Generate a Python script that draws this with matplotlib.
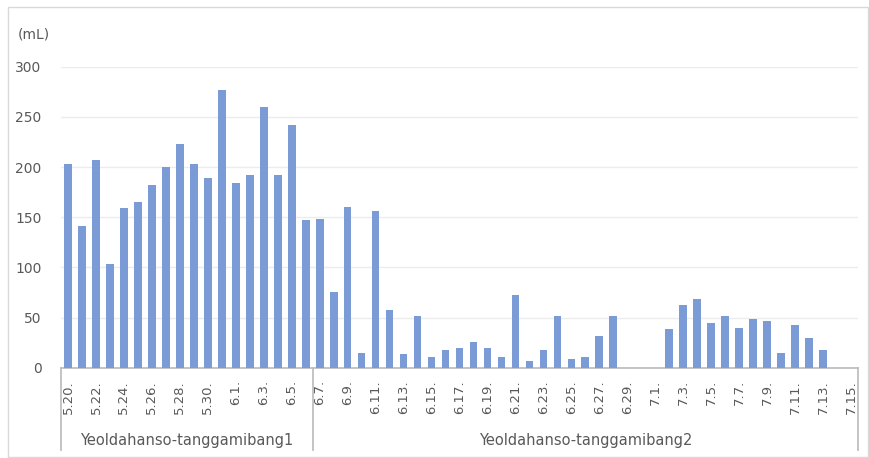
import numpy as np
import matplotlib
matplotlib.use("Agg")
import matplotlib.pyplot as plt
from matplotlib.patches import Rectangle

# --- data (mL per day) ---
dates1 = ["5.20.", "5.21.", "5.22.", "5.23.", "5.24.", "5.25.", "5.26.", "5.27.", "5.28.",
          "5.29.", "5.30.", "5.31.", "6.1.", "6.2.", "6.3.", "6.4.", "6.5.", "6.6."]
vals1 = [203, 141, 207, 103, 159, 165, 182, 200, 223, 203, 189, 277, 184, 192, 260, 192, 242, 147]

dates2 = ["6.7.", "6.8.", "6.9.", "6.10.", "6.11.", "6.12.", "6.13.", "6.14.", "6.15.", "6.16.",
          "6.17.", "6.18.", "6.19.", "6.20.", "6.21.", "6.22.", "6.23.", "6.24.", "6.25.", "6.26.",
          "6.27.", "6.28.", "6.29.", "6.30.", "7.1.", "7.2.", "7.3.", "7.4.", "7.5.", "7.6.",
          "7.7.", "7.8.", "7.9.", "7.10.", "7.11.", "7.12.", "7.13.", "7.14.", "7.15."]
vals2 = [148, 75, 160, 15, 156, 58, 14, 52, 11, 18,
         20, 26, 20, 11, 72, 7, 18, 52, 9, 11,
         32, 52, 0, 0, 0, 39, 62, 68, 45, 52,
         40, 49, 47, 15, 43, 30, 18, 0, 0]

groups = ["Yeoldahanso-tanggamibang1", "Yeoldahanso-tanggamibang2"]

labels = dates1 + dates2
values = vals1 + vals2
x = np.arange(len(values))

BAR = "#7b9bd6"
TXT = "#595959"
AXC = "#bfbfbf"

fig = plt.figure(figsize=(8.69, 4.58), dpi=100)
ax = fig.add_axes([61/869, 1 - 367.7/458, (858 - 61)/869, (367.7 - 66.7)/458])

ax.bar(x, values, width=0.55, color=BAR, zorder=3)

ax.set_xlim(-0.5, len(values) - 0.5)
ax.set_ylim(0, 300)
ax.set_yticks(range(0, 301, 50))
ax.yaxis.grid(True, color="#ececec", linewidth=1)
ax.set_axisbelow(True)

ax.set_xticks(x[::2])
ax.set_xticklabels(labels[::2], rotation=90, color=TXT, fontsize=9.5, va="top")
ax.tick_params(axis="x", length=0, pad=9)
ax.tick_params(axis="y", length=0, colors=TXT, labelsize=10, pad=14)

for s in ["top", "right", "left"]:
    ax.spines[s].set_visible(False)
ax.spines["bottom"].set_color(AXC)
ax.spines["bottom"].set_linewidth(1.3)

# group separators and group labels under the date labels
n1 = len(dates1)
trans = ax.get_xaxis_transform()
ybot = -(450 - 367.7) / 301
for xb in [-0.5, n1 - 0.5, len(values) - 0.5]:
    ax.plot([xb, xb], [0, ybot], color=AXC, lw=1.3, transform=trans, clip_on=False)
ygl = -(440 - 367.7) / 301
ax.text((n1 - 1) / 2, ygl, groups[0], transform=trans, ha="center", va="center",
        color=TXT, fontsize=10.5)
ax.text((n1 + len(values) - 1) / 2, ygl, groups[1], transform=trans, ha="center",
        va="center", color=TXT, fontsize=10.5)

# unit label
fig.text(18/869, 1 - 34/458, "(mL)", color=TXT, fontsize=10, va="center", ha="left")

# outer chart border
fig.patches.append(Rectangle((8/869, 1 - 457/458), 860/869, 450/458, transform=fig.transFigure,
                             fill=False, edgecolor="#d9d9d9", linewidth=1))

fig.savefig("out.png", dpi=100)
